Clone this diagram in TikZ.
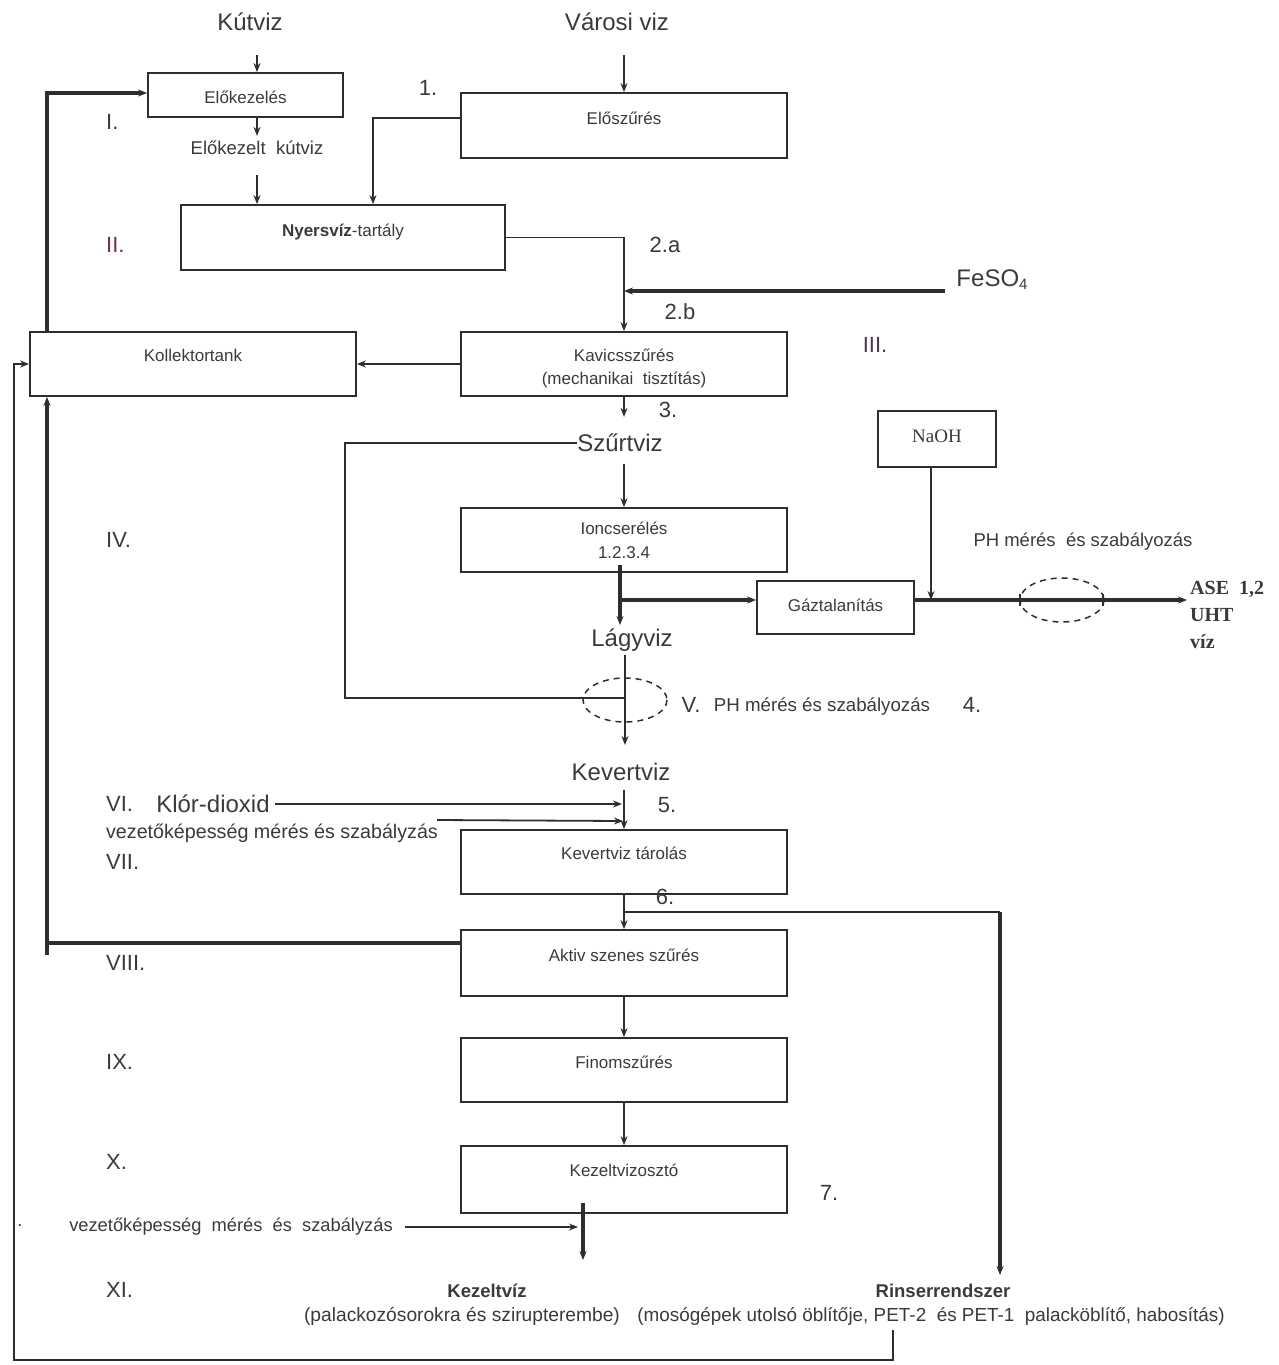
\documentclass[tikz,border=0pt]{standalone}
\usepackage{fontspec}
\setmainfont{Liberation Sans}
\newfontfamily\serifft{Liberation Serif}
\usetikzlibrary{arrows.meta,calc}
\definecolor{ink}{HTML}{2E2E2E}
\definecolor{txtc}{HTML}{3A3A3A}
\definecolor{romred}{HTML}{7A2E3A}
\definecolor{rompurp}{HTML}{4E3550}
\newcommand\myfs[1]{\fontsize{#1}{#1}\selectfont}
\begin{document}
\begin{tikzpicture}[x=1pt,y=-1pt,
  box/.style={draw=ink, line width=1.8pt, inner sep=0pt, text=txtc, align=center,
              font=\fontsize{17}{23}\selectfont},
  lbl/.style={inner sep=0pt, text=txtc},
  big/.style={lbl, font=\myfs{24}},
  num/.style={lbl, font=\myfs{22}},
  rom/.style={lbl, font=\myfs{22}, anchor=west},
  thn/.style={draw=ink, line width=1.8pt},
  thm/.style={draw=ink, line width=2.4pt},
  thk/.style={draw=ink, line width=3.2pt},
  arr/.style={-{Stealth[length=9pt,width=7pt]}},
  dsh/.style={draw=ink, line width=1.5pt, dash pattern=on 6pt off 5pt}]
\useasboundingbox (0,0) rectangle (1278,1365);

% ---------- boxes ----------
\node[box, minimum width=195pt, text height=30pt, text depth=14pt] (elokez) at (245.5,95) {Előkezelés};
\node[box, minimum width=326pt, text height=31pt, text depth=34pt] (eloszur) at (624,125.5) {Előszűrés};
\node[box, minimum width=324pt, text height=31pt, text depth=34pt] (nyers) at (343,237.5) {\textbf{Nyersvíz}-tartály};
\node[box, minimum width=326pt, text height=52pt, text depth=12pt] (kavics) at (624,364) {Kavicsszűrés\\(mechanikai\ \ tisztítás)};
\node[box, minimum width=326pt, text height=29pt, text depth=35pt] (kollektor) at (193,364) {Kollektortank};
\node[box, minimum width=326pt, text height=50pt, text depth=14pt, font=\fontsize{17}{24}\selectfont] (ion) at (624,540) {Ioncserélés\\1.2.3.4};
\node[box, minimum width=157pt, text height=30pt, text depth=23pt] (gaz) at (835.5,607.5) {Gáztalanítás};
\node[box, minimum width=118pt, text height=31pt, text depth=25pt, font=\serifft\myfs{19}] (naoh) at (937,439) {NaOH};
\node[box, minimum width=326pt, text height=29pt, text depth=35pt] (kevtar) at (624,862) {Kevertviz tárolás};
\node[box, minimum width=326pt, text height=31pt, text depth=35pt] (aktiv) at (624,963) {Aktiv szenes szűrés};
\node[box, minimum width=326pt, text height=30pt, text depth=34pt] (finom) at (624,1070) {Finomszűrés};
\node[box, minimum width=326pt, text height=30pt, text depth=37pt] (kezosz) at (624,1179.5) {Kezeltvizosztó};

% ---------- labels ----------
\node[big] (kutviz) at (250,22) {Kútviz};
\node[big] (varosi) at (617,22) {Városi viz};
\node[lbl, font=\myfs{18.5}] (elokut) at (257,148) {Előkezelt\ \ kútviz};
\node[big] (szurt) at (620,443) {Szűrtviz};
\node[big] (lagy) at (632,640) {Lágyviz};
\node[big] (kevert) at (621,772) {Kevertviz};
\node[big] (feso) at (992,280) {FeSO\raisebox{-3pt}{\myfs{15}4}};
\node[lbl, font=\myfs{18.5}] (ph1) at (1083,542) {PH mérés\ \ és szabályozás};
\node[lbl, font=\serifft\bfseries\fontsize{20}{27}\selectfont, align=left, anchor=west] (ase) at (1190,615) {ASE\ \ 1,2\\UHT\\víz};
\node[num] (v5) at (691,705) {V.};
\node[lbl, font=\myfs{18.7}] (ph2) at (822,707) {PH mérés és szabályozás};
\node[big] (klor) at (213,804) {Klór-dioxid};
\node[lbl, font=\myfs{19.7}] (vez1) at (272,833) {vezetőképesség mérés és szabályzás};
\node[lbl, font=\myfs{18.3}] (vez2) at (231,1227) {vezetőképesség\ \ mérés\ \ és\ \ szabályzás};
\node[lbl, font=\myfs{18}] (dot) at (20,1226) {.};
\node[lbl, font=\bfseries\myfs{18.5}] (kezv) at (487,1291) {Kezeltvíz};
\node[lbl, font=\myfs{19.2}] (kezvsub) at (462,1316) {(palackozósorokra és szirupterembe)};
\node[lbl, font=\bfseries\myfs{18.5}] (rins) at (943,1291) {Rinserrendszer};
\node[lbl, font=\myfs{18.9}] (rinssub) at (931,1316) {(mosógépek utolsó öblítője, PET-2\ \ és PET-1\ \ palacköblítő, habosítás)};

% numbers
\node[num] (n1) at (428,88) {1.};
\node[num] (n2a) at (665,245) {2.a};
\node[num] (n2b) at (680,312) {2.b};
\node[num] (n3) at (668,410) {3.};
\node[num] (n4) at (972,705) {4.};
\node[num] (n5) at (667,805) {5.};
\node[num] (n6) at (665,897) {6.};
\node[num] (n7) at (829,1193) {7.};

% roman numerals
\node[rom] (r1) at (106,122) {I.};
\node[rom, text=romred] (r2) at (106,245) {II.};
\node[rom, text=rompurp, anchor=center] (r3) at (875,345) {III.};
\node[rom] (r4) at (106,540) {IV.};
\node[rom] (r6) at (106,804) {VI.};
\node[rom] (r7) at (106,862) {VII.};
\node[rom] (r8) at (106,963) {VIII.};
\node[rom] (r9) at (106,1062) {IX.};
\node[rom] (r10) at (106,1162) {X.};
\node[rom] (r11) at (106,1290) {XI.};

% ---------- coordinates ----------
\coordinate (kA) at (257,55);
\coordinate (kB) at (257,175);
\coordinate (vA) at (624,55);
\coordinate (eA) at (461,118);
\coordinate (nx) at (373,0);
\coordinate (fA) at (945,291);
\coordinate (L1) at (47,0);
\coordinate (byp) at (345,698);
\coordinate (j0) at (620,565);
\coordinate (j1) at (620,600);
\coordinate (nA) at (931,600);
\coordinate (aseA) at (1187,600);
\coordinate (lA) at (625,655);
\coordinate (lB) at (625,745);
\coordinate (kvA) at (624,790);
\coordinate (klA) at (275,804);
\coordinate (klB) at (622,804);
\coordinate (vzA) at (437,820);
\coordinate (vzB) at (623,821);
\coordinate (b6) at (624,912);
\coordinate (rA) at (1000,912);
\coordinate (rB) at (1000,1275);
\coordinate (akA) at (461,943);
\coordinate (akB) at (47,943);
\coordinate (akC) at (47,955);
\coordinate (kzA) at (583,1203);
\coordinate (kzB) at (583,1260);
\coordinate (vz2A) at (405,1227);
\coordinate (vz2B) at (578,1227);
\coordinate (oA) at (893,1330);
\coordinate (oB) at (893,1360);
\coordinate (oC) at (14,1360);
\coordinate (oD) at (14,364);

% ---------- connectors ----------
\draw[thn,arr] (kA) -- (kA |- elokez.north);
\draw[thn,arr] (vA) -- (eloszur.north);
\draw[thn,arr] (kA |- elokez.south) -- ++(0,18);
\draw[thn,arr] (kB) -- (kB |- nyers.north);
\draw[thm,arr] (eA) -| (nyers.north -| nx);
\draw[thn,arr] (nyers.east) -| (kavics.north);
\draw[thk,arr] (fA) -- (fA -| kavics.north);
\draw[thn,arr] (kavics.west) -- (kollektor.east);
\draw[thk,arr] (kollektor.north -| L1) |- ($(elokez.west)+(0,-2)$);
\draw[thn,arr] (kavics.south) -- ++(0,20);
\draw[thn] (szurt.west) -| (byp) -- (byp -| ion.south);
\draw[thn,arr] ($(szurt.south)+(4,12)$) -- (ion.north);
\draw[thk] (j0) -- (j1);
\draw[thk,arr] (j1) -- (j1 -| gaz.west);
\draw[thk,arr] (j1) -- ++(0,25);
\draw[thn,arr] (naoh.south -| nA) -- (nA);
\draw[thk,arr] (j1 -| gaz.east) -- (aseA);
\draw[dsh] (1062,600) ellipse [x radius=42, y radius=22];
\draw[thn] (1020,594) -- (1020,606);
\draw[thn] (1103,594) -- (1103,606);
\draw[thn,arr] (lA) -- (lB);
\draw[dsh] (625,700) ellipse [x radius=42, y radius=22];
\draw[thn,arr] (kvA) -- (kevtar.north);
\draw[thn,arr] (klA) -- (klB);
\draw[thn,arr] (vzA) -- (vzB);
\draw[thn,arr] (kevtar.south) -- (aktiv.north);
\draw[thm] (b6) -- (rA);
\draw[thk,arr] (rA) -- (rB);
\draw[thk] (akA) -- (akB);
\draw[thk,arr] (akC) -- (kollektor.south -| L1);
\draw[thn,arr] (aktiv.south) -- (finom.north);
\draw[thn,arr] (finom.south) -- (kezosz.north);
\draw[thk,arr] (kzA) -- (kzB);
\draw[thn,arr] (vz2A) -- (vz2B);
\draw[thm,arr] (oA) -- (oB) -- (oC) -- (oD) -- (kollektor.west);
\end{tikzpicture}
\end{document}
